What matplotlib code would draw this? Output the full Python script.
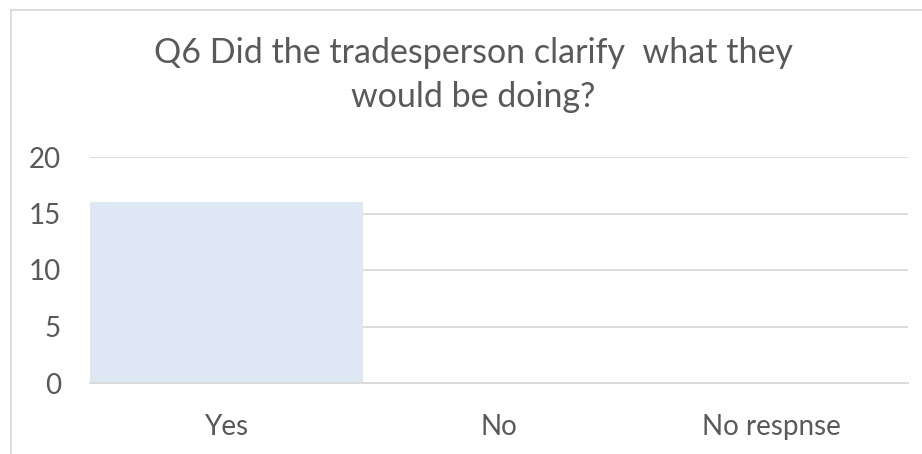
import matplotlib.pyplot as plt

categories = ["Yes", "No", "No respnse"]
counts = [16, 0, 0]
y_ticks = [0, 5, 10, 15, 20]
title_lines = ["Q6 Did the tradesperson clarify  what they", "would be doing?"]

text_color = "#595959"
grid_color = "#d9d9d9"
bar_color = "#dee8f4"

plt.rcParams['font.family'] = ['Lato', 'DejaVu Sans']

fig = plt.figure(figsize=(9.22, 4.54), dpi=100)
ax = fig.add_axes([90 / 922, 1 - 383 / 454, 818 / 922, 226 / 454])

x = range(len(categories))
ax.bar(x, counts, width=1.0, color=bar_color, zorder=2)

ax.set_xlim(-0.5, len(categories) - 0.5)
ax.set_ylim(0, 20)
ax.set_yticks(y_ticks)
ax.set_xticks(list(x))
ax.set_xticklabels(categories)
ax.tick_params(axis='both', length=0, labelsize=20, labelcolor=text_color)
ax.tick_params(axis='y', pad=21)
ax.tick_params(axis='x', pad=22)

ax.grid(axis='y', color=grid_color, linewidth=1.3, zorder=1)
for s in ['top', 'right', 'left']:
    ax.spines[s].set_visible(False)
ax.spines['bottom'].set_color(grid_color)
ax.spines['bottom'].set_linewidth(1.3)
ax.spines['bottom'].set_zorder(3)

# chart area border (only top and left visible in the crop)
fig.add_artist(plt.Line2D([11 / 922, 11 / 922], [0, 1 - 10 / 454], color=grid_color, linewidth=1.3))
fig.add_artist(plt.Line2D([11 / 922, 1], [1 - 10 / 454, 1 - 10 / 454], color=grid_color, linewidth=1.3))

for line, base in zip(title_lines, [63, 107]):
    fig.text(473 / 922, 1 - base / 454, line, ha='center', va='baseline', fontsize=24.5,
             color=text_color)

fig.savefig("out.png", dpi=100)
